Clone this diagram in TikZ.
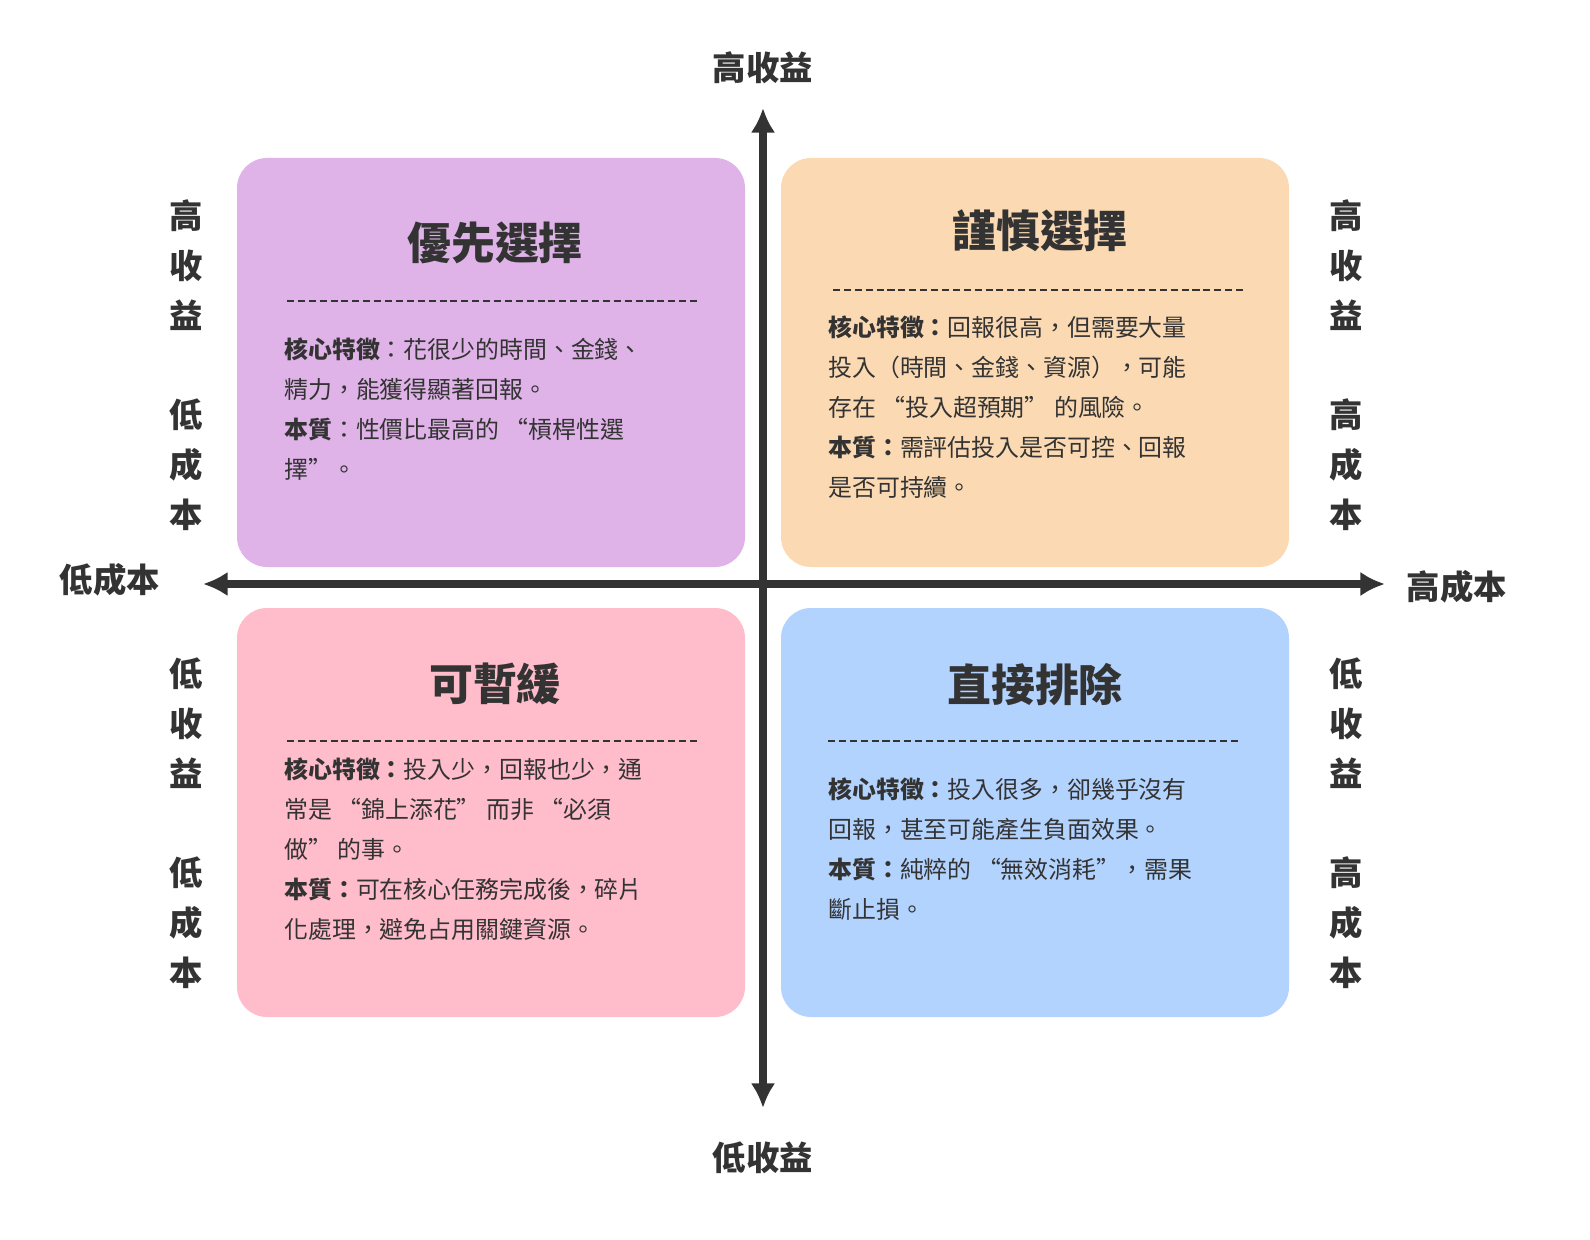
\documentclass[tikz,border=0pt]{standalone}
\usepackage{fontspec}
\setmainfont{Noto Sans CJK TC}
\usetikzlibrary{arrows.meta}
\begin{document}
\begin{tikzpicture}[x=0.02cm,y=-0.02cm,
  box/.style={rounded corners=0.6cm,draw=none},
  ttl/.style={font=\fontsize{25}{30}\selectfont\bfseries,text=tc},
  body/.style={font=\fontsize{13.6}{22.76}\selectfont,text=tc,align=left,anchor=north west,inner sep=0pt},
  side/.style={font=\fontsize{19}{28.4}\selectfont\bfseries,text=tc,align=center,inner sep=0pt},
  axl/.style={font=\fontsize{19}{24}\selectfont\bfseries,text=tc},
  dl/.style={draw=tc,dash pattern=on 4pt off 2.2pt,line width=0.6pt},
  ax/.style={draw=tc,line width=4pt,-{Latex[length=14pt,width=14pt]}}]
\definecolor{tc}{HTML}{333333}
\definecolor{pu}{HTML}{DFB3E8}
\definecolor{or}{HTML}{FBDAB3}
\definecolor{pk}{HTML}{FFBCCB}
\definecolor{bl}{HTML}{B3D3FF}
\useasboundingbox (0,0) rectangle (1590,1240);
\fill[box,pu] (237,158) rectangle (745,567);
\fill[box,or] (781,158) rectangle (1289,567);
\fill[box,pk] (237,608) rectangle (745,1017);
\fill[box,bl] (781,608) rectangle (1289,1017);
\coordinate (ct) at (763,108); \coordinate (cb) at (763,1108);
\coordinate (cl) at (203,584); \coordinate (cr) at (1385,584);
\coordinate (c0) at (763,584);
\draw[ax] (c0) -- (ct); \draw[ax] (c0) -- (cb);
\draw[ax] (c0) -- (cl); \draw[ax] (c0) -- (cr);
\node[ttl] (t1) at (495,243) {優先選擇};
\node[ttl] (t2) at (1040,231) {謹慎選擇};
\node[ttl] (t3) at (495,684) {可暫緩};
\node[ttl] (t4) at (1035,684) {直接排除};
\draw[dl] (287,301) -- (697,301);
\draw[dl] (833,290) -- (1243,290);
\draw[dl] (287,741) -- (697,741);
\draw[dl] (828,741) -- (1238,741);
\node[body] (b1) at (284,337) {\textbf{核心特徵}：花很少的時間、金錢、\\精力，能獲得顯著回報。\\\textbf{本質}：性價比最高的 “槓桿性選\\擇”。};
\node[body] (b2) at (828,315) {\textbf{核心特徵：}回報很高，但需要大量\\投入（時間、金錢、資源），可能\\存在 “投入超預期” 的風險。\\\textbf{本質：}需評估投入是否可控、回報\\是否可持續。};
\node[body] (b3) at (284,757) {\textbf{核心特徵：}投入少，回報也少，通\\常是 “錦上添花” 而非 “必須\\做” 的事。\\\textbf{本質：}可在核心任務完成後，碎片\\化處理，避免占用關鍵資源。};
\node[body] (b4) at (828,777) {\textbf{核心特徵：}投入很多，卻幾乎沒有\\回報，甚至可能產生負面效果。\\\textbf{本質：}純粹的 “無效消耗”，需果\\斷止損。};
\node[side] (s1) at (186,265) {高\\收\\益};
\node[side] (s2) at (186,465) {低\\成\\本};
\node[side] (s3) at (1346,265) {高\\收\\益};
\node[side] (s4) at (1346,465) {高\\成\\本};
\node[side] (s5) at (186,723) {低\\收\\益};
\node[side] (s6) at (186,923) {低\\成\\本};
\node[side] (s7) at (1346,723) {低\\收\\益};
\node[side] (s8) at (1346,923) {高\\成\\本};
\node[axl] (a1) at (763,68) {高收益};
\node[axl] (a2) at (763,1158) {低收益};
\node[axl] (a3) at (110,580) {低成本};
\node[axl] (a4) at (1457,587) {高成本};
\end{tikzpicture}
\end{document}
